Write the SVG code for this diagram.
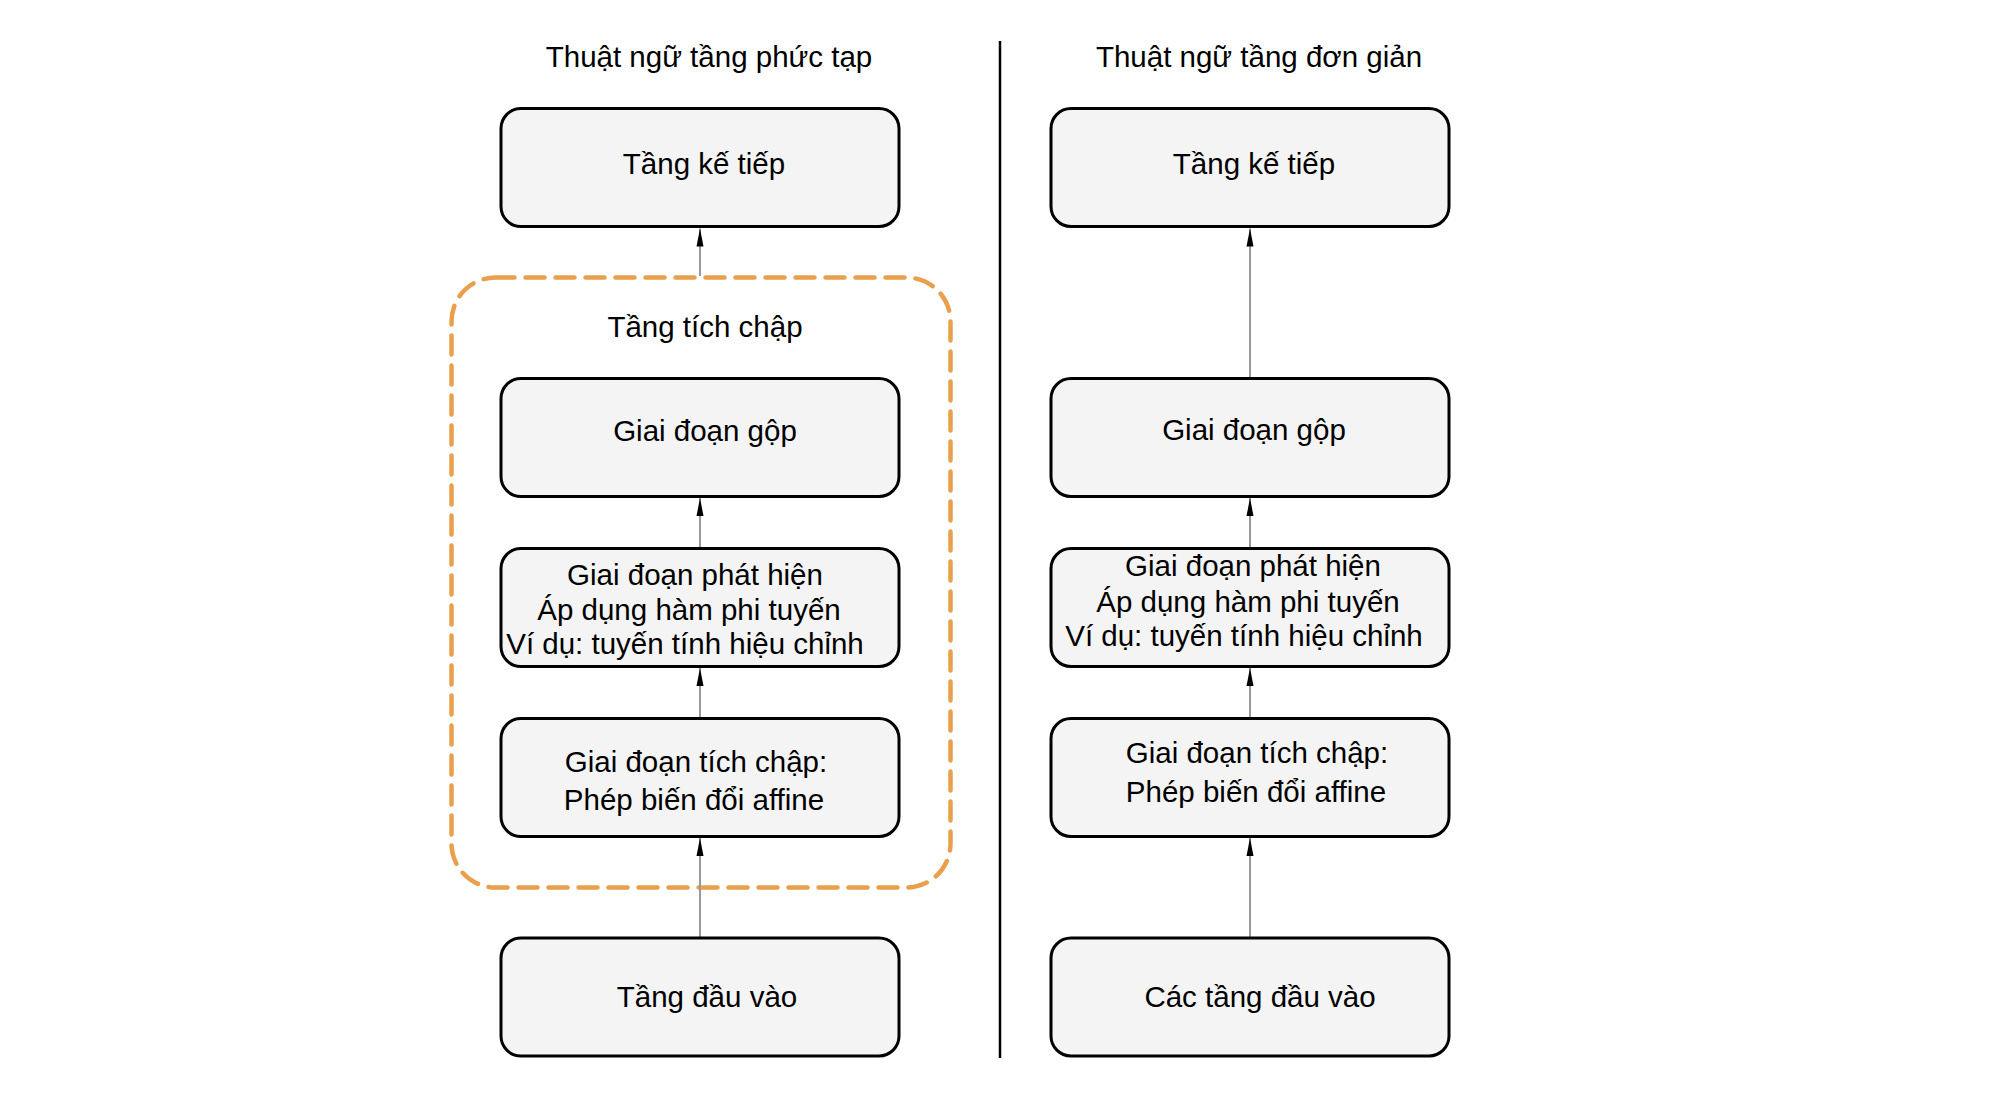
<svg xmlns="http://www.w3.org/2000/svg" width="2000" height="1100" viewBox="0 0 2000 1100">
  <style>
    text { font-family: "Liberation Sans", Arial, sans-serif; font-size: 29.5px; fill: #000; text-anchor: middle; }
    .box { fill: #f4f4f4; stroke: #000; stroke-width: 3; }
    .conn { stroke: #999; stroke-width: 2; fill: none; marker-end: url(#arrow); }
    .group { fill: none; stroke: #E8A04C; stroke-width: 4.5; stroke-dasharray: 19 11; stroke-linecap: round; }
  </style>
  <defs>
    <marker id="arrow" viewBox="0 0 18 8" markerWidth="18" markerHeight="8" refX="18" refY="4" orient="auto" markerUnits="userSpaceOnUse">
      <path d="M0,0.5 L18,4 L0,7.5 z" fill="#000"/>
    </marker>
  </defs>
  <rect width="2000" height="1100" fill="#fff"/>

  <g id="titles">
    <text x="709" y="67">Thuật ngữ tầng phức tạp</text>
    <text x="1259" y="67">Thuật ngữ tầng đơn giản</text>
  </g>

  <g id="divider">
    <line x1="1000" y1="41" x2="1000" y2="1058" stroke="#000" stroke-width="2.5"/>
  </g>

  <g id="conv-layer-group">
    <rect class="group" x="451.5" y="277.5" width="499" height="610" rx="44" ry="44"/>
    <text x="705" y="337">Tầng tích chập</text>
  </g>

  <g id="connectors">
    <line class="conn" x1="700" y1="937" x2="700" y2="838"/>
    <line class="conn" x1="700" y1="717" x2="700" y2="668"/>
    <line class="conn" x1="700" y1="547" x2="700" y2="498"/>
    <line class="conn" x1="700" y1="276" x2="700" y2="228.5"/>
    <line class="conn" x1="1250" y1="937" x2="1250" y2="838"/>
    <line class="conn" x1="1250" y1="717" x2="1250" y2="668"/>
    <line class="conn" x1="1250" y1="547" x2="1250" y2="498"/>
    <line class="conn" x1="1250" y1="377" x2="1250" y2="228.5"/>
  </g>

  <g id="left-next">
    <rect class="box" x="501" y="108.5" width="398" height="118" rx="20" ry="20"/>
    <text x="704" y="174">Tầng kế tiếp</text>
  </g>
  <g id="left-pool">
    <rect class="box" x="501" y="378.5" width="398" height="118" rx="20" ry="20"/>
    <text x="705" y="441">Giai đoạn gộp</text>
  </g>
  <g id="left-detect">
    <rect class="box" x="501" y="548.5" width="398" height="118" rx="20" ry="20"/>
    <text x="695" y="585">Giai đoạn phát hiện</text>
    <text x="689" y="620">Áp dụng hàm phi tuyến</text>
    <text x="685" y="654">Ví dụ: tuyến tính hiệu chỉnh</text>
  </g>
  <g id="left-conv">
    <rect class="box" x="501" y="718.5" width="398" height="118" rx="20" ry="20"/>
    <text x="696" y="772">Giai đoạn tích chập:</text>
    <text x="694" y="810">Phép biến đổi affine</text>
  </g>
  <g id="left-input">
    <rect class="box" x="501" y="938" width="398" height="118" rx="20" ry="20"/>
    <text x="707" y="1007">Tầng đầu vào</text>
  </g>

  <g id="right-next">
    <rect class="box" x="1051" y="108.5" width="398" height="118" rx="20" ry="20"/>
    <text x="1254" y="174">Tầng kế tiếp</text>
  </g>
  <g id="right-pool">
    <rect class="box" x="1051" y="378.5" width="398" height="118" rx="20" ry="20"/>
    <text x="1254" y="440">Giai đoạn gộp</text>
  </g>
  <g id="right-detect">
    <rect class="box" x="1051" y="548.5" width="398" height="118" rx="20" ry="20"/>
    <text x="1253" y="576">Giai đoạn phát hiện</text>
    <text x="1248" y="612">Áp dụng hàm phi tuyến</text>
    <text x="1244" y="646">Ví dụ: tuyến tính hiệu chỉnh</text>
  </g>
  <g id="right-conv">
    <rect class="box" x="1051" y="718.5" width="398" height="118" rx="20" ry="20"/>
    <text x="1257" y="763">Giai đoạn tích chập:</text>
    <text x="1256" y="802">Phép biến đổi affine</text>
  </g>
  <g id="right-input">
    <rect class="box" x="1051" y="938" width="398" height="118" rx="20" ry="20"/>
    <text x="1260" y="1007">Các tầng đầu vào</text>
  </g>
</svg>
